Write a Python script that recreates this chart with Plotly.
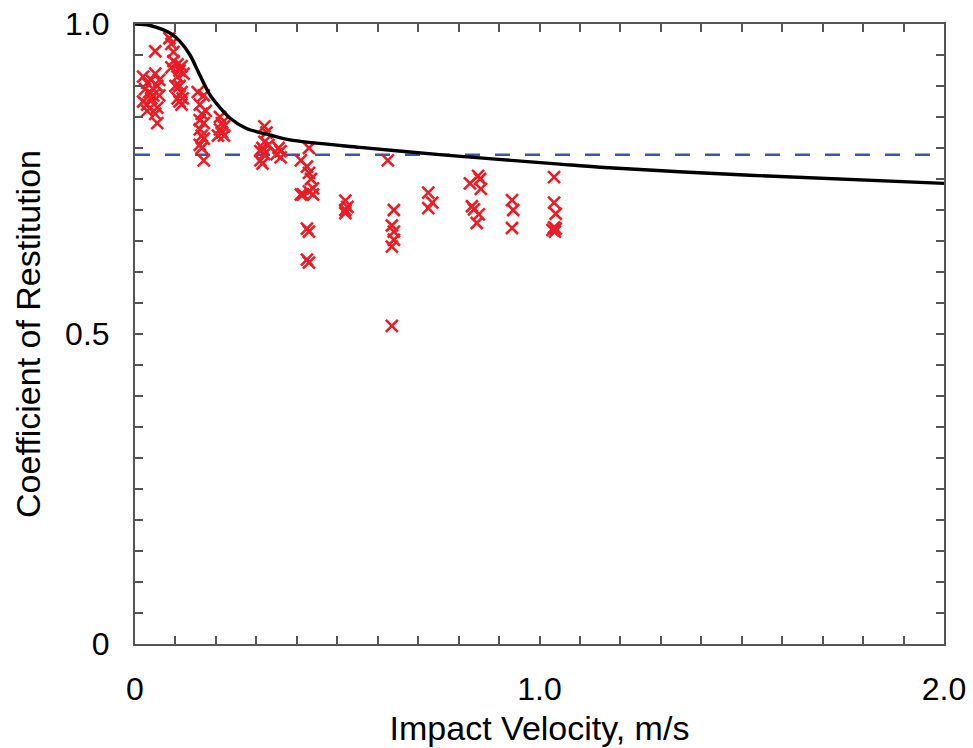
import plotly.graph_objects as go

# Measured coefficient of restitution data (impact velocity m/s, COR)
vel = [
    # cluster ~0.02-0.07
    0.02, 0.03, 0.025, 0.035, 0.04, 0.05, 0.055, 0.045, 0.02, 0.03, 0.06, 0.055, 0.05, 0.055, 0.03, 0.05, 0.04, 0.06,
    # cluster ~0.09-0.12
    0.085, 0.09, 0.095, 0.095, 0.09, 0.105, 0.11, 0.115, 0.105, 0.11, 0.115, 0.11, 0.118, 0.105, 0.10, 0.12, 0.115,
    # cluster ~0.16
    0.155, 0.17, 0.16, 0.165, 0.17, 0.16, 0.165, 0.17, 0.16, 0.165, 0.17, 0.175, 0.16,
    # cluster ~0.21
    0.21, 0.215, 0.21, 0.22, 0.215, 0.205, 0.22,
    # cluster ~0.32
    0.32, 0.325, 0.32, 0.315, 0.33, 0.31, 0.32, 0.31, 0.315,
    # cluster ~0.355
    0.355, 0.36, 0.35, 0.36,
    # cluster ~0.43
    0.41, 0.425, 0.43, 0.43, 0.435, 0.44, 0.43, 0.415, 0.41, 0.44, 0.425, 0.43, 0.425, 0.43,
    # cluster ~0.52
    0.52, 0.525, 0.52, 0.52,
    # cluster ~0.635
    0.625, 0.64, 0.635, 0.64, 0.64, 0.635, 0.635,
    # cluster ~0.73
    0.725, 0.735, 0.725,
    # cluster ~0.84
    0.828, 0.848, 0.855, 0.833, 0.838, 0.85, 0.845, 0.853,
    # cluster ~0.93
    0.932, 0.935, 0.932,
    # cluster ~1.04
    1.036, 1.036, 1.04, 1.036, 1.038, 1.032, 1.04,
]
cor = [
    0.915, 0.905, 0.895, 0.89, 0.91, 0.92, 0.90, 0.885, 0.875, 0.87, 0.885, 0.865, 0.855, 0.84, 0.86, 0.956, 0.88, 0.91,
    0.977, 0.968, 0.955, 0.94, 0.93, 0.935, 0.925, 0.932, 0.915, 0.90, 0.89, 0.875, 0.88, 0.88, 0.90, 0.92, 0.87,
    0.89, 0.885, 0.87, 0.855, 0.84, 0.83, 0.82, 0.815, 0.805, 0.80, 0.78, 0.86, 0.845,
    0.85, 0.84, 0.83, 0.835, 0.825, 0.82, 0.82,
    0.835, 0.825, 0.81, 0.80, 0.805, 0.795, 0.79, 0.78, 0.775,
    0.80, 0.795, 0.79, 0.785,
    0.78, 0.77, 0.80, 0.76, 0.75, 0.735, 0.73, 0.725, 0.725, 0.725, 0.67, 0.665, 0.62, 0.615,
    0.715, 0.705, 0.70, 0.695,
    0.78, 0.70, 0.675, 0.665, 0.652, 0.641, 0.513,
    0.728, 0.712, 0.703,
    0.743, 0.755, 0.734, 0.706, 0.701, 0.693, 0.679, 0.75,
    0.716, 0.70, 0.671,
    0.753, 0.712, 0.694, 0.672, 0.665, 0.668, 0.67,
]

# Model curve
curve_v = [0, 0.035, 0.069, 0.09, 0.111, 0.136, 0.16, 0.185, 0.21, 0.235, 0.277, 0.334, 0.383,
           0.556, 0.76, 1.05, 1.15, 1.52, 2.0]
curve_e = [1.0, 0.998, 0.991, 0.984, 0.972, 0.950, 0.918, 0.886, 0.865, 0.848, 0.831, 0.821, 0.813,
           0.801, 0.789, 0.774, 0.769, 0.756, 0.743]

# Constant reference value (dashed)
ref_v = [0, 2.0]
ref_e = [0.789, 0.789]

x_ticks = [i / 10 for i in range(21)]
x_labels = {0: "0", 10: "1.0", 20: "2.0"}
y_ticks = [i / 20 for i in range(21)]
y_labels = {0: "0", 10: "0.5", 20: "1.0"}

FONT = "Liberation Sans, Arial, Helvetica, sans-serif"

fig = go.Figure()
fig.add_trace(go.Scatter(x=ref_v, y=ref_e, mode="lines",
                         line=dict(color="#3a56a8", width=2.4, dash="15px,15px"),
                         hoverinfo="skip", showlegend=False))
fig.add_trace(go.Scatter(x=vel, y=cor, mode="markers",
                         marker=dict(symbol="x-thin", size=12, line=dict(color="#ec1c24", width=2.6)),
                         showlegend=False))
fig.add_trace(go.Scatter(x=curve_v, y=curve_e, mode="lines",
                         line=dict(color="black", width=3.4, shape="spline", smoothing=0.8),
                         showlegend=False))

axis_common = dict(
    showgrid=False, zeroline=False, showline=True, linecolor="#555555", linewidth=2,
    mirror="ticks", ticks="inside", ticklen=8, tickwidth=2, tickcolor="#555555",
    tickfont=dict(family=FONT, size=32, color="black"),
)

fig.update_xaxes(
    range=[0, 2], tickvals=x_ticks,
    ticktext=[x_labels.get(i, "") for i in range(21)],
    title=dict(text="Impact Velocity, m/s", font=dict(family=FONT, size=34, color="black"), standoff=10),
    ticklabelstandoff=16,
    **axis_common,
)
fig.update_yaxes(
    range=[0, 1], tickvals=y_ticks,
    ticktext=[y_labels.get(i, "") for i in range(21)],
    title=dict(text="Coefficient of Restitution", font=dict(family=FONT, size=34, color="black"), standoff=14),
    ticklabelstandoff=17,
    **axis_common,
)

fig.update_layout(
    width=973, height=748,
    margin=dict(l=135, r=29, t=24, b=104, autoexpand=False),
    paper_bgcolor="white", plot_bgcolor="white",
    font=dict(family=FONT, color="black"),
)

fig.write_html("out.html")
